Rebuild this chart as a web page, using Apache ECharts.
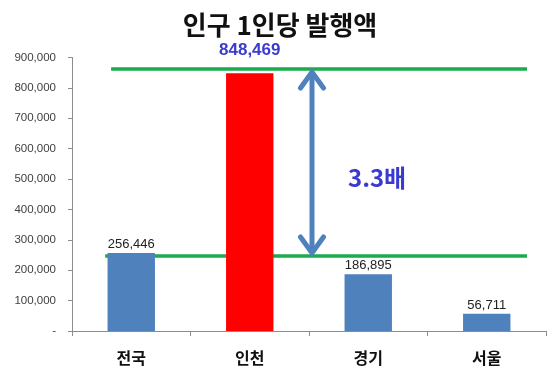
<!DOCTYPE html>
<html><head><meta charset="utf-8">
<script src="https://cdn.jsdelivr.net/npm/echarts@6/dist/echarts.min.js"></script>
<style>html,body{margin:0;padding:0;background:#fff}#c{width:560px;height:383px}</style>
</head><body><div id="c"></div>
<script>
var titleText = '인구 1인당 발행액';
var categories = ['전국', '인천', '경기', '서울'];
var values = [256446, 848469, 186895, 56711];
var highlightIndex = 1;
var refLineValues = [862000, 247000];
var ratioText = '3.3배';
var yTicks = [0, 900000, 100000]; // min, max, interval

var KR = '"Noto Sans CJK KR", sans-serif';
var NUM = '"Liberation Sans", Arial, sans-serif';

function fmt(v){ return v === 0 ? '-' : v.toLocaleString('en-US'); }

var chart = echarts.init(document.getElementById('c'), null, {renderer:'canvas'});

var barData = values.map(function(v, i){
  if (i === highlightIndex) {
    return {value: v, itemStyle:{color:'#FF0000'},
      label:{show:true, position:'top', distance:14, formatter: function(p){return fmt(p.value);},
        fontFamily: NUM, fontSize:17, fontWeight:'bold', color:'#3B3BD0'}};
  }
  return {value: v};
});

chart.setOption({
  animation:false,
  backgroundColor:'#fff',
  title:{text:titleText, left:'center', top:7,
    textStyle:{fontFamily:KR, fontSize:26, fontWeight:'bold', color:'#111'}},
  grid:{left:72, right:14, top:57.5, bottom:52, containLabel:false},
  xAxis:{type:'category', data:categories,
    axisLine:{lineStyle:{color:'#8c8c8c', width:1}},
    axisTick:{show:true, alignWithLabel:false, length:5, lineStyle:{color:'#8c8c8c'}},
    axisLabel:{fontFamily:KR, fontSize:16, fontWeight:'bold', color:'#111', margin:19}},
  yAxis:{type:'value', min:yTicks[0], max:yTicks[1], interval:yTicks[2],
    axisLine:{show:true, lineStyle:{color:'#8c8c8c'}},
    axisTick:{show:true, length:4, lineStyle:{color:'#8c8c8c'}},
    splitLine:{show:false},
    axisLabel:{formatter:fmt, fontFamily:NUM, fontSize:11.5, color:'#404040', margin:16}},
  series:[{type:'bar', data:barData, barWidth:'40%',
    itemStyle:{color:'#4F81BD'},
    label:{show:true, position:'top', distance:2, formatter:function(p){return fmt(p.value);},
      fontFamily:NUM, fontSize:13, color:'#222'}}]
});

function drawOverlay(){
  var px = function(i){ return chart.convertToPixel({xAxisIndex:0}, i); };
  var py = function(v){ return chart.convertToPixel({yAxisIndex:0}, v); };
  var step = px(1) - px(0);
  var yTop = py(refLineValues[0]);
  var yBot = py(refLineValues[1]);
  var green = '#1AAB4B';
  var blue = '#4F81BD';
  var arrowX = (px(1) + px(2)) / 2 + 3;
  var headW = 11.5, headH = 16;
  var graphics = [
    {type:'line', shape:{x1:px(0) - step*0.17, y1:yTop, x2:px(3) + step*0.34, y2:yTop},
      style:{stroke:green, lineWidth:3.5}},
    {type:'line', shape:{x1:px(0) - step*0.22, y1:yBot, x2:px(3) + step*0.34, y2:yBot},
      style:{stroke:green, lineWidth:3.5}},
    {type:'line', shape:{x1:arrowX, y1:yTop + 3, x2:arrowX, y2:yBot - 3},
      style:{stroke:blue, lineWidth:5}},
    {type:'polyline', shape:{points:[[arrowX-headW, yTop+3+headH],[arrowX, yTop+3],[arrowX+headW, yTop+3+headH]]},
      style:{stroke:blue, lineWidth:5, fill:null, lineJoin:'miter', lineCap:'round'}},
    {type:'polyline', shape:{points:[[arrowX-headW, yBot-3-headH],[arrowX, yBot-3],[arrowX+headW, yBot-3-headH]]},
      style:{stroke:blue, lineWidth:5, fill:null, lineJoin:'miter', lineCap:'round'}},
    {type:'text', x:arrowX + 36, y:(yTop + yBot)/2 + 15,
      style:{text:ratioText, font:'bold 24px "Noto Sans CJK KR", sans-serif', fill:'#3A3AD0',
        textAlign:'left', textVerticalAlign:'middle'}}
  ];
  chart.setOption({graphic:{elements:graphics}});
}
drawOverlay();
</script></body></html>
